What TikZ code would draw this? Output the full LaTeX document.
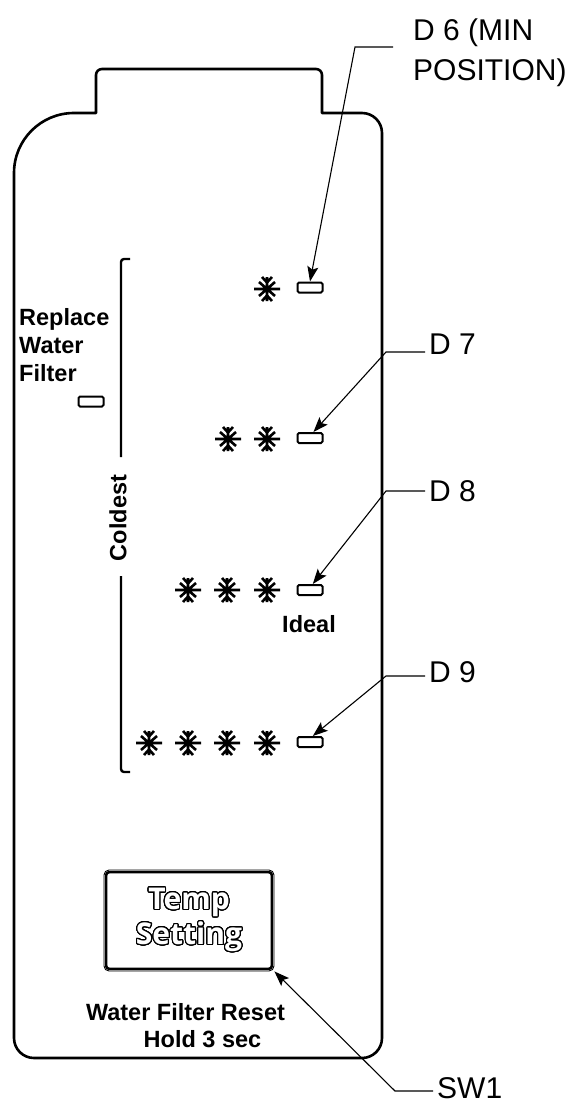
\documentclass[tikz,border=0pt]{standalone}
\usepackage{fontspec}
\setmainfont{Liberation Sans}
\newfontfamily\btnfont{Open Sans}
\usepackage{contour}
\contourlength{1.1pt}
\contournumber{32}
\usetikzlibrary{arrows.meta,calc}
\newcommand{\flake}[2]{\draw[flk] (#1,#2-12)--(#1,#2+12) (#1-13,#2)--(#1+13,#2)
  (#1-8,#2-7)--(#1+8,#2+7) (#1-8,#2+7)--(#1+8,#2-7)
  (#1-5,#2-12)--(#1,#2-6.5)--(#1+5,#2-12) (#1-5,#2+12)--(#1,#2+6.5)--(#1+5,#2+12);}
\newcommand{\pointer}[3]{\draw[lead] (#1 -| #2.west)--(#1)--(#3);}

\begin{document}
\begin{tikzpicture}[x=1pt, y=-1pt,
  outline/.style={line width=2.6pt, line join=round},
  brk/.style={line width=2.4pt, rounded corners=3pt},
  led/.style={draw, line width=2pt, rounded corners=1.5pt, minimum width=25pt,
    minimum height=10pt, inner sep=0pt},
  flk/.style={line width=2.6pt},
  lbl/.style={font=\fontsize{30}{40}\selectfont, inner sep=4pt, align=left},
  boldtxt/.style={font=\fontsize{23.5}{28}\selectfont\bfseries, inner sep=0pt},
  lead/.style={line width=1.1pt, -{Stealth[length=15pt, width=11pt, inset=3pt]}}]
  \useasboundingbox (0,0) rectangle (574,1102);

  % Housing
  % -------

  \draw[outline] (96,113)--(96,75) arc[start angle=180, end angle=270, radius=6]
    --(316,69) arc[start angle=270, end angle=360, radius=6]
    --(322,113)--(362,113) arc[start angle=270, end angle=360, radius=20]
    --(382,1038) arc[start angle=0, end angle=90, radius=20]
    --(34,1058) arc[start angle=90, end angle=180, radius=20]
    --(14,173) arc[start angle=180, end angle=270, radius=60]--cycle;

  % Filter
  % ------

  \node[boldtxt, align=left, anchor=west] (rwf) at (19,345) {Replace\\Water\\Filter};
  \node[led] (rwfled) at (91,401.5) {};

  % Scale
  % -----

  \node[boldtxt, rotate=90] (cold) at (118,518) {Coldest};
  \draw[brk] (130,259)--(121,259)--(121,457);
  \draw[brk] (121,576)--(121,772)--(130,772);

  \flake{267}{289}
  \foreach \x in {228, 267}{
    \flake{\x}{439}
  }
  \foreach \x in {188, 227, 267}{
    \flake{\x}{590}
  }
  \foreach \x in {149, 188, 227, 267}{
    \flake{\x}{743}
  }

  \node[led] (d6) at (310,287.5) {};
  \node[led] (d7) at (310,438) {};
  \node[led] (d8) at (310,590) {};
  \node[led] (d9) at (310,742) {};
  \node[boldtxt] (ideal) at (309,624) {Ideal};

  % Button
  % ------

  \node[draw, line width=0.9pt, rounded corners=5pt, minimum width=170pt,
    minimum height=101pt, text=white, align=center,
    font=\btnfont\bfseries\fontsize{30}{35}\selectfont] (sw) at (189,920.5)
    {\contour{black}{Temp}\\\contour{black}{Setting}};
  \draw[line width=2.6pt, rounded corners=3pt] ($(sw.north west)+(2.6,2.6)$)
    rectangle ($(sw.south east)+(-2.6,-2.6)$);
  \node[boldtxt] (rst) at (185.5,1012) {Water Filter Reset};
  \node[boldtxt] (hold) at (202.5,1039) {Hold 3 sec};

  % Leaders
  % -------

  \node[lbl, anchor=west, inner xsep=20pt] (t6) at (393,53) {D 6 (MIN\\POSITION)};
  \node[lbl, anchor=west] (t7) at (425,344) {D 7};
  \node[lbl, anchor=west] (t8) at (425,491) {D 8};
  \node[lbl, anchor=west] (t9) at (425,672) {D 9};
  \node[lbl, anchor=west] (tsw) at (433,1088) {SW1};

  \coordinate (c6) at (355,47);
  \coordinate (c7) at (386,352);
  \coordinate (c8) at (386,491);
  \coordinate (c9) at (386,676);
  \coordinate (csw) at (395,1091);

  \pointer{c6}{t6}{d6.north}
  \pointer{c7}{t7}{d7.60}
  \pointer{c8}{t8}{d8.65}
  \pointer{c9}{t9}{d9.65}
  \pointer{csw}{tsw}{sw.south east}

\end{tikzpicture}
\end{document}
